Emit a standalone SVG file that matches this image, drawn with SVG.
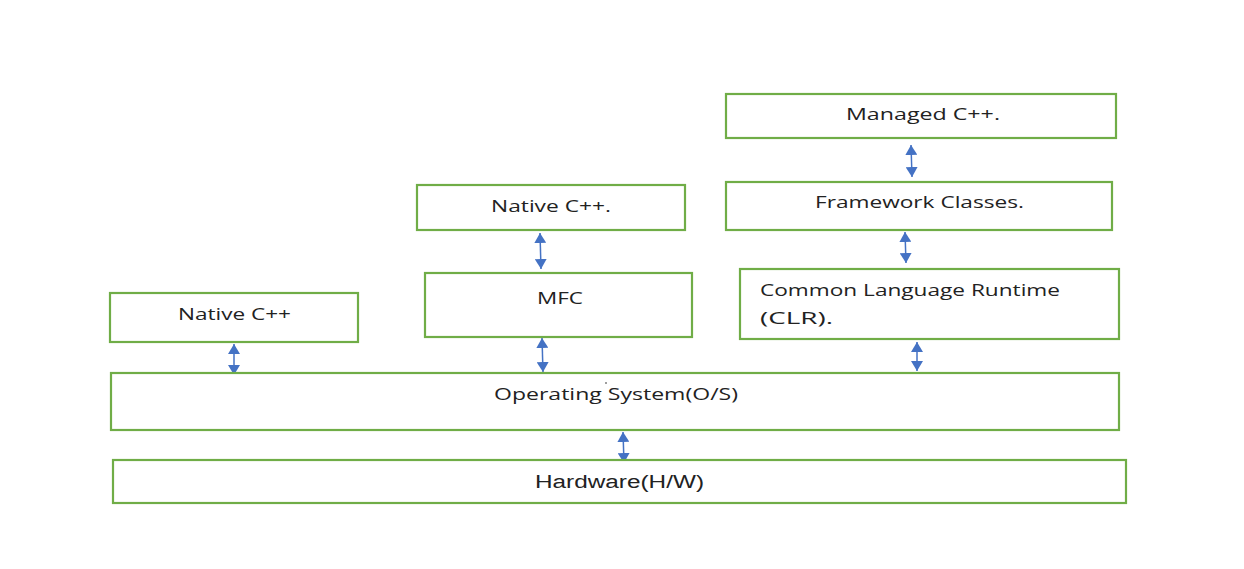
<svg xmlns="http://www.w3.org/2000/svg" width="1244" height="569" viewBox="0 0 1244 569">
<style>
.box{fill:#fff;stroke:#70AD47;stroke-width:2.2}
.t{font-family:"Open Sans","Noto Sans","DejaVu Sans",sans-serif;font-size:17px;fill:#222}
.h{font-family:"Liberation Sans","Open Sans",sans-serif;font-size:18px;fill:#222}
.c{stroke:#4472C4;stroke-width:1.5;fill:none;marker-start:url(#a);marker-end:url(#a)}
</style>
<defs>
<marker id="a" viewBox="0 0 10 12" refX="10" refY="6" markerWidth="10" markerHeight="12" markerUnits="userSpaceOnUse" orient="auto-start-reverse">
<path d="M0,0 L10,6 L0,12 z" fill="#4472C4"/>
</marker>
</defs>
<rect width="1244" height="569" fill="#fff"/>
<g id="connectors">
<line class="c" x1="911" y1="145" x2="912" y2="177"/>
<line class="c" x1="905" y1="232" x2="906" y2="263"/>
<line class="c" x1="917" y1="342" x2="917" y2="371"/>
<line class="c" x1="540" y1="233" x2="541" y2="269"/>
<line class="c" x1="542" y1="338" x2="543" y2="372"/>
<line class="c" x1="234" y1="344" x2="234" y2="375"/>
<line class="c" x1="623" y1="432" x2="624" y2="463"/>
</g>
<g id="managed"><rect class="box" x="726" y="94" width="390" height="44"/><text class="t" x="846" y="120" textLength="154" lengthAdjust="spacingAndGlyphs">Managed C++.</text></g>
<g id="framework"><rect class="box" x="726" y="182" width="386" height="48"/><text class="t" x="815" y="208" textLength="209" lengthAdjust="spacingAndGlyphs">Framework Classes.</text></g>
<g id="clr"><rect class="box" x="740" y="269" width="379" height="70"/><text class="t" x="760" y="296" textLength="300" lengthAdjust="spacingAndGlyphs">Common Language Runtime</text><text class="t" x="760" y="324" textLength="73" lengthAdjust="spacingAndGlyphs">(CLR).</text></g>
<g id="nativecpp2"><rect class="box" x="417" y="185" width="268" height="45"/><text class="t" x="491" y="212" textLength="120" lengthAdjust="spacingAndGlyphs">Native C++.</text></g>
<g id="mfc"><rect class="box" x="425" y="273" width="267" height="64"/><text class="t" x="537" y="304" textLength="46" lengthAdjust="spacingAndGlyphs">MFC</text></g>
<g id="nativecpp1"><rect class="box" x="110" y="293" width="248" height="49"/><text class="t" x="178" y="320" textLength="113" lengthAdjust="spacingAndGlyphs">Native C++</text></g>
<g id="os"><rect class="box" x="111" y="373" width="1008" height="57"/><text class="t" x="494" y="400" textLength="244" lengthAdjust="spacingAndGlyphs">Operating System(O/S)</text><circle cx="606" cy="383" r="0.8" fill="#222"/></g>
<g id="hardware"><rect class="box" x="113" y="460" width="1013" height="43"/><text class="h" x="535" y="488" textLength="169" lengthAdjust="spacingAndGlyphs">Hardware(H/W)</text></g>
</svg>
